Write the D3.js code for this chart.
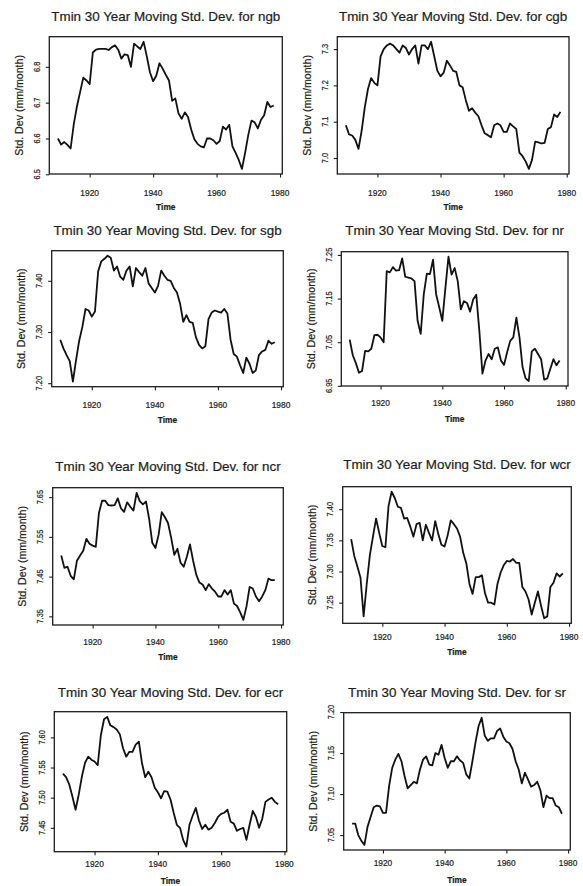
<!DOCTYPE html>
<html>
<head>
<meta charset="utf-8">
<script src="https://cdn.jsdelivr.net/npm/d3@7/dist/d3.min.js"></script>
<style>
  html, body { margin: 0; padding: 0; background: #fff; }
  svg { display: block; }
  text { font-family: "Liberation Sans", Arial, Helvetica, sans-serif; fill: #1c1c1c; stroke: #1c1c1c; stroke-width: 0.2px; }
</style>
</head>
<body>
<svg id="chart" width="583" height="886"></svg>
<script>
// Annual values, 1910-1978, of the 30-year moving standard deviation of Tmin
const years = d3.range(1910, 1979);
const xTickValues = [1920, 1940, 1960, 1980];

const ngbValues = [6.600, 6.583, 6.590, 6.582, 6.572, 6.640, 6.690, 6.730, 6.770, 6.762,
  6.752, 6.840, 6.848, 6.850, 6.850, 6.850, 6.847, 6.855, 6.860, 6.848,
  6.823, 6.835, 6.833, 6.800, 6.865, 6.857, 6.850, 6.870, 6.830, 6.785,
  6.760, 6.775, 6.810, 6.795, 6.778, 6.762, 6.705, 6.712, 6.670, 6.655,
  6.673, 6.660, 6.625, 6.598, 6.585, 6.578, 6.575, 6.600, 6.600, 6.595,
  6.585, 6.593, 6.633, 6.625, 6.638, 6.578, 6.560, 6.540, 6.515, 6.560,
  6.610, 6.650, 6.645, 6.628, 6.652, 6.665, 6.702, 6.688, 6.692];

const cgbValues = [7.090, 7.065, 7.062, 7.050, 7.025, 7.075, 7.140, 7.190, 7.220, 7.207,
  7.200, 7.280, 7.300, 7.310, 7.315, 7.310, 7.300, 7.290, 7.310, 7.303,
  7.285, 7.300, 7.310, 7.260, 7.310, 7.310, 7.300, 7.320, 7.280, 7.240,
  7.225, 7.235, 7.268, 7.255, 7.240, 7.237, 7.200, 7.195, 7.160, 7.130,
  7.137, 7.125, 7.115, 7.090, 7.068, 7.063, 7.057, 7.090, 7.095, 7.090,
  7.072, 7.072, 7.095, 7.087, 7.080, 7.015, 7.005, 6.990, 6.970, 6.995,
  7.045, 7.043, 7.040, 7.042, 7.080, 7.085, 7.120, 7.113, 7.127];

const sgbValues = [7.285, 7.268, 7.255, 7.243, 7.203, 7.245, 7.283, 7.310, 7.345, 7.342,
  7.330, 7.340, 7.418, 7.438, 7.443, 7.449, 7.445, 7.420, 7.428, 7.408,
  7.402, 7.420, 7.428, 7.389, 7.425, 7.417, 7.410, 7.425, 7.395, 7.386,
  7.377, 7.390, 7.420, 7.410, 7.402, 7.400, 7.386, 7.377, 7.355, 7.320,
  7.333, 7.320, 7.318, 7.290, 7.275, 7.268, 7.272, 7.325, 7.338, 7.342,
  7.340, 7.338, 7.345, 7.336, 7.285, 7.257, 7.252, 7.235, 7.220, 7.250,
  7.238, 7.220, 7.225, 7.255, 7.262, 7.265, 7.283, 7.277, 7.280];

const nrValues = [7.056, 7.020, 7.002, 6.980, 6.984, 7.030, 7.029, 7.035, 7.066, 7.067,
  7.061, 7.050, 7.213, 7.210, 7.222, 7.214, 7.215, 7.242, 7.200, 7.198,
  7.196, 7.190, 7.099, 7.069, 7.160, 7.207, 7.206, 7.239, 7.160, 7.130,
  7.099, 7.174, 7.246, 7.205, 7.220, 7.190, 7.125, 7.144, 7.140, 7.120,
  7.148, 7.159, 7.076, 6.978, 7.008, 7.023, 7.011, 7.035, 7.038, 7.008,
  6.998, 7.027, 7.053, 7.061, 7.106, 7.061, 6.993, 6.967, 6.961, 7.029,
  7.035, 7.023, 7.011, 6.964, 6.967, 6.989, 7.011, 6.997, 7.008];

const ncrValues = [7.503, 7.472, 7.475, 7.452, 7.443, 7.490, 7.503, 7.515, 7.545, 7.533,
  7.528, 7.525, 7.610, 7.641, 7.641, 7.630, 7.629, 7.630, 7.647, 7.622,
  7.613, 7.637, 7.626, 7.616, 7.661, 7.640, 7.632, 7.639, 7.595, 7.535,
  7.522, 7.555, 7.612, 7.600, 7.585, 7.548, 7.505, 7.520, 7.485, 7.475,
  7.500, 7.531, 7.490, 7.455, 7.435, 7.430, 7.416, 7.431, 7.420, 7.412,
  7.400, 7.400, 7.416, 7.405, 7.416, 7.382, 7.376, 7.360, 7.341, 7.375,
  7.424, 7.420, 7.400, 7.388, 7.400, 7.416, 7.445, 7.441, 7.441];

const wcrValues = [7.352, 7.325, 7.308, 7.290, 7.228, 7.280, 7.326, 7.356, 7.385, 7.362,
  7.341, 7.339, 7.405, 7.428, 7.418, 7.404, 7.402, 7.385, 7.386, 7.372,
  7.356, 7.376, 7.378, 7.350, 7.375, 7.362, 7.350, 7.381, 7.360, 7.343,
  7.340, 7.358, 7.382, 7.376, 7.369, 7.356, 7.330, 7.313, 7.280, 7.264,
  7.291, 7.291, 7.294, 7.265, 7.250, 7.250, 7.247, 7.280, 7.298, 7.310,
  7.317, 7.316, 7.320, 7.314, 7.314, 7.275, 7.268, 7.255, 7.231, 7.250,
  7.268, 7.245, 7.225, 7.228, 7.275, 7.282, 7.297, 7.292, 7.297];

const ecrValues = [7.540, 7.534, 7.522, 7.502, 7.480, 7.505, 7.535, 7.558, 7.568, 7.563,
  7.560, 7.554, 7.604, 7.630, 7.634, 7.620, 7.617, 7.613, 7.605, 7.582,
  7.568, 7.576, 7.576, 7.588, 7.593, 7.557, 7.534, 7.543, 7.534, 7.517,
  7.509, 7.499, 7.511, 7.510, 7.497, 7.475, 7.455, 7.450, 7.430, 7.419,
  7.455, 7.470, 7.483, 7.462, 7.448, 7.455, 7.447, 7.450, 7.458, 7.468,
  7.473, 7.475, 7.480, 7.460, 7.457, 7.445, 7.448, 7.450, 7.430, 7.455,
  7.478, 7.468, 7.450, 7.465, 7.493, 7.497, 7.500, 7.493, 7.489];

const srValues = [7.064, 7.064, 7.050, 7.043, 7.038, 7.060, 7.072, 7.084, 7.086, 7.085,
  7.077, 7.077, 7.110, 7.132, 7.142, 7.149, 7.140, 7.122, 7.107, 7.111,
  7.115, 7.113, 7.130, 7.142, 7.146, 7.136, 7.135, 7.150, 7.148, 7.160,
  7.144, 7.132, 7.140, 7.140, 7.146, 7.141, 7.138, 7.124, 7.119, 7.140,
  7.163, 7.183, 7.193, 7.171, 7.165, 7.168, 7.168, 7.177, 7.180, 7.170,
  7.164, 7.162, 7.155, 7.140, 7.130, 7.113, 7.126, 7.118, 7.109, 7.111,
  7.115, 7.105, 7.084, 7.098, 7.095, 7.095, 7.086, 7.084, 7.076];

// y-axis tick labels for each region
const ngbTicks = ["6.5", "6.6", "6.7", "6.8"];
const cgbTicks = ["7.0", "7.1", "7.2", "7.3"];
const sgbTicks = ["7.20", "7.30", "7.40"];
const nrTicks  = ["6.95", "7.05", "7.15", "7.25"];
const ncrTicks = ["7.35", "7.45", "7.55", "7.65"];
const wcrTicks = ["7.25", "7.30", "7.35", "7.40"];
const ecrTicks = ["7.45", "7.50", "7.55", "7.60"];
const srTicks  = ["7.05", "7.10", "7.15", "7.20"];

const regions = ["ngb", "cgb", "sgb", "nr", "ncr", "wcr", "ecr", "sr"];
const seriesValues = [ngbValues, cgbValues, sgbValues, nrValues, ncrValues, wcrValues, ecrValues, srValues];
const seriesTicks = [ngbTicks, cgbTicks, sgbTicks, nrTicks, ncrTicks, wcrTicks, ecrTicks, srTicks];

// Page layout: plot frame and text rows for each panel (pixels)
const frames = [
  { x0: 49.3,  y0: 36.7,  x1: 282.3, y1: 174.0, titleY: 20.7,  tickY: 192.7, timeY: 207.3 },
  { x0: 337.3, y0: 36.7,  x1: 569.0, y1: 174.0, titleY: 20.7,  tickY: 192.7, timeY: 206.7 },
  { x0: 51.7,  y0: 250.7, x1: 283.3, y1: 386.7, titleY: 235.0, tickY: 405.0, timeY: 420.0 },
  { x0: 341.3, y0: 251.7, x1: 568.0, y1: 386.0, titleY: 235.0, tickY: 402.7, timeY: 419.3 },
  { x0: 52.7,  y0: 487.7, x1: 283.3, y1: 625.0, titleY: 470.7, tickY: 642.0, timeY: 657.0 },
  { x0: 342.7, y0: 486.7, x1: 571.3, y1: 623.3, titleY: 469.3, tickY: 636.7, timeY: 652.3 },
  { x0: 54.3,  y0: 711.7, x1: 286.7, y1: 851.7, titleY: 697.3, tickY: 864.0, timeY: 880.7 },
  { x0: 343.7, y0: 712.7, x1: 570.3, y1: 850.0, titleY: 696.7, tickY: 863.3, timeY: 880.0 }
];

const ink = "#1c1c1c";
const svg = d3.select("#chart");

// S-style axis range: data extent widened by 4% on both sides
function padded(extent) {
  const d = (extent[1] - extent[0]) * 0.04;
  return [extent[0] - d, extent[1] + d];
}

regions.forEach((region, i) => {
  const f = frames[i];
  const values = seriesValues[i];
  const ticks = seriesTicks[i];
  const data = years.map((yr, k) => ({ year: yr, value: values[k] }));

  const x = d3.scaleLinear().domain(padded(d3.extent(years))).range([f.x0, f.x1]);
  const y = d3.scaleLinear().domain(padded(d3.extent(values))).range([f.y1, f.y0]);

  const g = svg.append("g").attr("class", "panel-" + region);

  // title
  g.append("text")
    .attr("x", (f.x0 + f.x1) / 2)
    .attr("y", f.titleY)
    .attr("text-anchor", "middle")
    .style("font-size", "13.4px")
    .text("Tmin 30 Year Moving Std. Dev. for " + region);

  // bottom axis: ticks via d3.axisBottom, labels placed on their own row
  const xAxis = g.append("g")
    .attr("transform", `translate(0,${f.y1})`)
    .call(d3.axisBottom(x).tickValues(xTickValues).tickSize(3.5).tickFormat(""));
  xAxis.select(".domain").remove();
  xAxis.selectAll(".tick line").attr("stroke", ink).attr("stroke-width", 1.1);

  g.selectAll(".xlab")
    .data(xTickValues)
    .join("text")
    .attr("class", "xlab")
    .attr("x", d => x(d))
    .attr("y", f.tickY)
    .attr("dy", "0.35em")
    .attr("text-anchor", "middle")
    .style("font-size", "8.4px")
    .text(d => d);

  g.append("text")
    .attr("x", (f.x0 + f.x1) / 2)
    .attr("y", f.timeY)
    .attr("dy", "0.35em")
    .attr("text-anchor", "middle")
    .style("font-size", "8.4px")
    .style("font-weight", "bold")
    .text("Time");

  // left axis: ticks, rotated tick labels
  const yAxis = g.append("g")
    .attr("transform", `translate(${f.x0},0)`)
    .call(d3.axisLeft(y).tickValues(ticks.map(Number)).tickSize(3.5).tickFormat(""));
  yAxis.select(".domain").remove();
  yAxis.selectAll(".tick line").attr("stroke", ink).attr("stroke-width", 1.1);

  g.selectAll(".ylab")
    .data(ticks)
    .join("text")
    .attr("class", "ylab")
    .attr("transform", d => `translate(${f.x0 - 12.5},${y(+d)}) rotate(-90) scale(0.88,1)`)
    .attr("dy", "0.35em")
    .attr("text-anchor", "middle")
    .style("font-size", "8.4px")
    .text(d => d);

  g.append("text")
    .attr("transform", `translate(${f.x0 - 30},${(f.y0 + f.y1) / 2}) rotate(-90)`)
    .attr("dy", "0.35em")
    .attr("text-anchor", "middle")
    .style("font-size", "10.6px")
    .text("Std. Dev (mm/month)");

  // frame
  g.append("rect")
    .attr("x", f.x0).attr("y", f.y0)
    .attr("width", f.x1 - f.x0).attr("height", f.y1 - f.y0)
    .attr("fill", "none")
    .attr("stroke", ink)
    .attr("stroke-width", 1.3);

  // series
  g.append("path")
    .datum(data)
    .attr("fill", "none")
    .attr("stroke", "#111")
    .attr("stroke-width", 1.8)
    .attr("stroke-linejoin", "round")
    .attr("d", d3.line().x(d => x(d.year)).y(d => y(d.value)));
});
</script>
</body>
</html>
